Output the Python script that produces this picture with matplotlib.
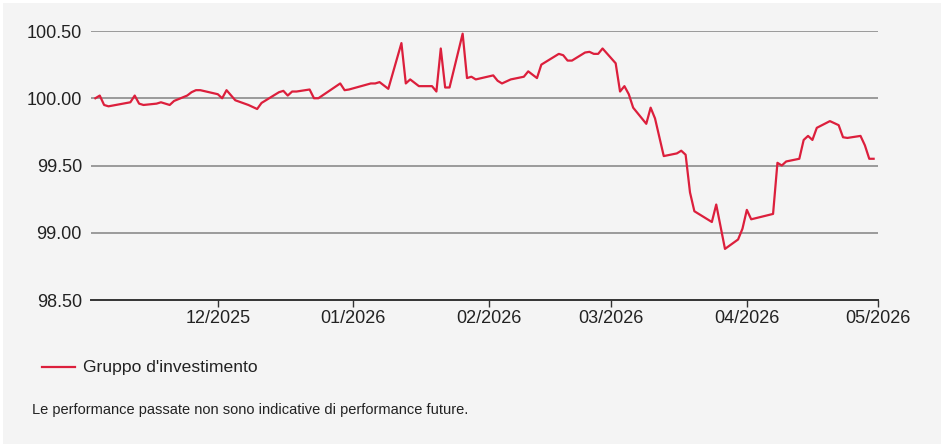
import pandas as pd
import matplotlib.pyplot as plt
import matplotlib.dates as mdates
from matplotlib.patches import Rectangle

plt.rcParams['font.family'] = ['Liberation Sans', 'DejaVu Sans']

dates = [
    "2025-11-03", "2025-11-04", "2025-11-05", "2025-11-06", "2025-11-11", "2025-11-12",
    "2025-11-13", "2025-11-14", "2025-11-17", "2025-11-18", "2025-11-20", "2025-11-21",
    "2025-11-24", "2025-11-25", "2025-11-26", "2025-11-27", "2025-12-01", "2025-12-02",
    "2025-12-03", "2025-12-05", "2025-12-08", "2025-12-10", "2025-12-11", "2025-12-12",
    "2025-12-15", "2025-12-16", "2025-12-17", "2025-12-18", "2025-12-19", "2025-12-22",
    "2025-12-23", "2025-12-24", "2025-12-29", "2025-12-30", "2025-12-31", "2026-01-05",
    "2026-01-06", "2026-01-07", "2026-01-09", "2026-01-12", "2026-01-13", "2026-01-14",
    "2026-01-16", "2026-01-19", "2026-01-20", "2026-01-21", "2026-01-22", "2026-01-23",
    "2026-01-26", "2026-01-27", "2026-01-28", "2026-01-29", "2026-02-02", "2026-02-03",
    "2026-02-04", "2026-02-06", "2026-02-09", "2026-02-10", "2026-02-12", "2026-02-13",
    "2026-02-17", "2026-02-18", "2026-02-19", "2026-02-20", "2026-02-23", "2026-02-24",
    "2026-02-25", "2026-02-26", "2026-02-27", "2026-03-02", "2026-03-03", "2026-03-04",
    "2026-03-05", "2026-03-06", "2026-03-09", "2026-03-10", "2026-03-11", "2026-03-13",
    "2026-03-16", "2026-03-17", "2026-03-18", "2026-03-19", "2026-03-20", "2026-03-24",
    "2026-03-25", "2026-03-27", "2026-03-30", "2026-03-31", "2026-04-01", "2026-04-02",
    "2026-04-07", "2026-04-08", "2026-04-09", "2026-04-10", "2026-04-13", "2026-04-14",
    "2026-04-15", "2026-04-16", "2026-04-17", "2026-04-20", "2026-04-22", "2026-04-23",
    "2026-04-24", "2026-04-27", "2026-04-28", "2026-04-29", "2026-04-30",
]
values = [
    100.00, 100.02, 99.95, 99.94, 99.97, 100.02,
    99.96, 99.95, 99.96, 99.97, 99.95, 99.98,
    100.02, 100.045, 100.06, 100.06, 100.03, 100.00,
    100.06, 99.985, 99.95, 99.92, 99.965, 99.985,
    100.045, 100.055, 100.02, 100.05, 100.05, 100.065,
    100.00, 100.00, 100.11, 100.06, 100.065, 100.11,
    100.11, 100.12, 100.07, 100.41, 100.11, 100.14,
    100.09, 100.09, 100.05, 100.37, 100.08, 100.08,
    100.48, 100.15, 100.16, 100.14, 100.17, 100.13,
    100.11, 100.14, 100.16, 100.20, 100.15, 100.25,
    100.33, 100.32, 100.28, 100.28, 100.34, 100.345,
    100.33, 100.33, 100.37, 100.26, 100.05, 100.09,
    100.03, 99.93, 99.81, 99.93, 99.85, 99.57,
    99.59, 99.61, 99.58, 99.30, 99.16, 99.08,
    99.21, 98.88, 98.95, 99.03, 99.17, 99.10,
    99.14, 99.52, 99.50, 99.53, 99.55, 99.69,
    99.72, 99.69, 99.78, 99.83, 99.80, 99.71,
    99.705, 99.72, 99.65, 99.55, 99.55,
]
series_name = "Gruppo d'investimento"
y_ticks = [98.5, 99.0, 99.5, 100.0, 100.5]
x_ticks = ["2025-12-01", "2026-01-01", "2026-02-01", "2026-03-01", "2026-04-01", "2026-05-01"]
note = "Le performance passate non sono indicative di performance future."

df = pd.DataFrame({"date": pd.to_datetime(dates), "value": values})

W, H = 944, 448
fig = plt.figure(figsize=(W / 100, H / 100), dpi=100, facecolor="white")
fig.patches.append(Rectangle((3 / W, 4 / H), 938 / W, 441 / H, transform=fig.transFigure,
                             facecolor="#f4f4f4", edgecolor="none", zorder=-10))

ax = fig.add_axes([91 / W, 1 - 300 / H, 787 / W, 269 / H])
ax.set_facecolor("none")
ax.plot(df["date"], df["value"], color="#dc1f3c", lw=1.6, zorder=3)

ax.set_ylim(98.5, 100.5)
ax.set_xlim(pd.Timestamp("2025-11-02"), pd.Timestamp("2026-05-01"))
ax.set_yticks(y_ticks)
ax.set_yticklabels([f"{v:.2f}" for v in y_ticks])
ax.set_xticks(pd.to_datetime(x_ticks))
ax.xaxis.set_major_formatter(mdates.DateFormatter("%m/%Y"))

for v in y_ticks[1:]:
    ax.axhline(v, color="#9a9a9a", lw=1.4, zorder=1)
for s in ["top", "right", "left"]:
    ax.spines[s].set_visible(False)
ax.spines["bottom"].set_color("#333333")
ax.spines["bottom"].set_linewidth(1.4)

ax.tick_params(axis="y", length=0, pad=6.5, labelsize=13, labelcolor="#222222")
ax.tick_params(axis="x", length=5, width=1, color="#333333", pad=2, labelsize=13, labelcolor="#222222")

fig.add_artist(plt.Line2D([42 / W, 75 / W], [1 - 367 / H, 1 - 367 / H], color="#dc1f3c", lw=1.6))
fig.text(83 / W, 1 - 367 / H, series_name, fontsize=12.6, va="center", color="#222222")
fig.text(32 / W, 1 - 410 / H, note, fontsize=10.5, va="center", color="#222222")

fig.savefig("out.png", dpi=100, facecolor=fig.get_facecolor())
